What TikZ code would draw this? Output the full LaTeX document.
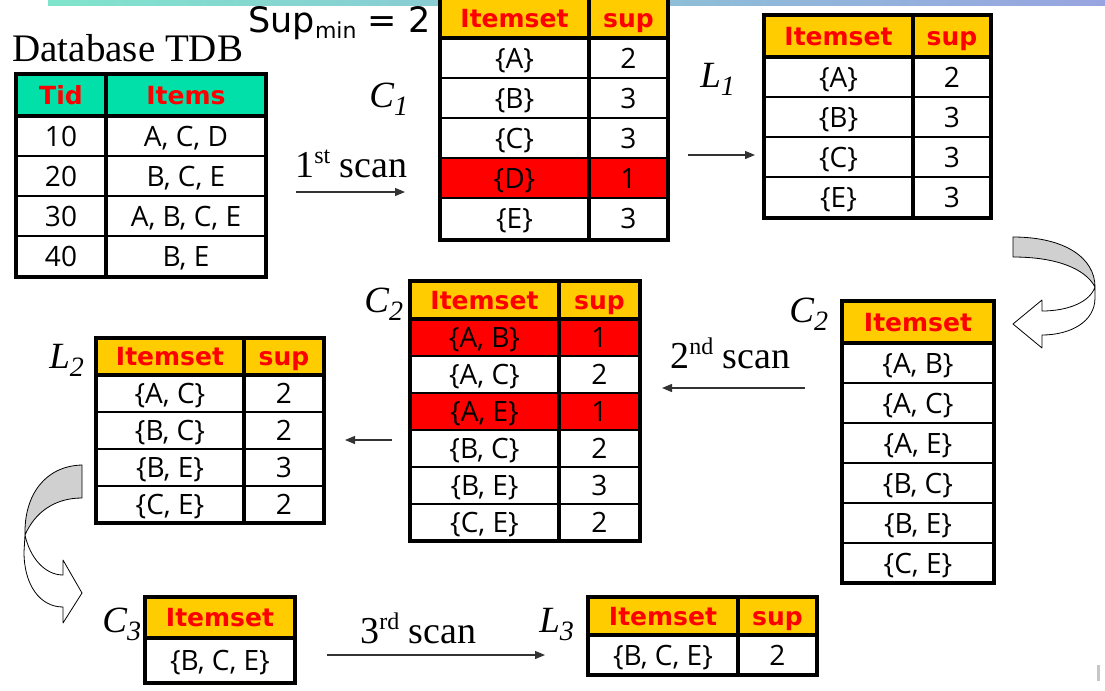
\documentclass[tikz,border=0pt]{standalone}
\usepackage{fontspec}
\setmainfont{Open Sans}
\newfontfamily\vsans{DejaVu Sans}
\newfontfamily\tnr{Liberation Serif}
\usetikzlibrary{arrows.meta}

\definecolor{hdrgold}{HTML}{FFCC00}
\definecolor{hdrteal}{HTML}{00E0A8}
\definecolor{hdrred}{HTML}{FF0000}
\definecolor{barmint}{HTML}{80E4CC}
\definecolor{barblue}{HTML}{98A4E0}
\definecolor{foldgray}{HTML}{D0D0D0}

% set name with a lowered index, as C_1
\newcommand{\setlbl}[2]{#1\raisebox{-4pt}{\fontsize{14}{14}\selectfont #2}}
\newcommand{\scanlbl}[2]{#1\raisebox{7pt}{\fontsize{12}{12}\selectfont #2}~scan}

\tikzset{
  frame/.style={line width=2pt},
  colline/.style={line width=2pt},
  rowline/.style={line width=1.1pt},
  hdr/.style={font=\vsans\bfseries\fontsize{12.5}{12.5}\selectfont, text=hdrred, inner sep=0pt, text height=9.1pt, text depth=0pt},
  cell/.style={font=\fontsize{14}{14}\selectfont, inner sep=0pt, text height=10pt, text depth=0pt},
  setname/.style={font=\tnr\itshape\fontsize{18.5}{18.5}\selectfont, anchor=base west, inner sep=0pt},
  scantext/.style={font=\tnr\fontsize{19}{19}\selectfont, anchor=base west, inner sep=0pt},
  scanarr/.style={-{Triangle[length=5pt,width=4pt]}, line width=0.6pt, black!80},
  fold/.style={draw=black, line width=0.4pt, line join=round},
}

\begin{document}
\begin{tikzpicture}[x=0.5pt, y=-0.5pt]
	\useasboundingbox (0,0) rectangle (1105,691);
	\clip (0,0) rectangle (1105,691);
	
	% top bar
	\shade[left color=barmint, right color=barblue] (48,0) rectangle (1105,5);
	\fill[gray!45] (1097,665) rectangle (1100,681);
	
	\node[font=\tnr\fontsize{19.5}{19.5}\selectfont, anchor=base west, inner sep=0pt] (tdbtitle) at (12,61) {Database TDB};
	\node[font=\vsans\fontsize{17.5}{17.5}\selectfont, anchor=base west, inner sep=0pt] (supmin) at (248,32) {Sup\raisebox{-3pt}{\fontsize{11}{11}\selectfont min} = 2};
	
	% Database TDB
	\fill[hdrteal] (16,74) rectangle (266,116);
	\foreach \y in {156,196,236} \draw[rowline] (16,\y) -- (266,\y);
	\draw[colline] (16,116) -- (266,116);
	\draw[colline] (106,74) -- (106,277);
	\draw[frame] (16,74) rectangle (266,277);
	\node[hdr] (tdbtid) at (61,95) {Tid};
	\node[hdr] (tdbitems) at (186,95) {Items};
	\foreach \t/\s [count=\i] in {10/{A, C, D}, 20/{B, C, E}, 30/{A, B, C, E}, 40/{B, E}} {
		\node[cell] (tdbt\i) at (61,96+40*\i) {\t};
		\node[cell] (tdbi\i) at (186,96+40*\i) {\s};
	}
	
	% C1
	\fill[hdrgold] (440,-4) rectangle (668,38);
	\fill[hdrred] (440,158) rectangle (668,198);
	\foreach \y in {78,118,158,198} \draw[rowline] (440,\y) -- (668,\y);
	\draw[colline] (440,38) -- (668,38);
	\draw[colline] (589,-4) -- (589,240);
	\draw[frame] (440,-4) rectangle (668,240);
	\node[hdr] (coneh) at (514.5,18) {Itemset};
	\node[hdr] (cones) at (628.5,18) {sup};
	\foreach \t/\s [count=\i] in {{\{A\}}/2, {\{B\}}/3, {\{C\}}/3, {\{D\}}/1, {\{E\}}/3} {
		\node[cell] (conet\i) at (514.5,18+40*\i) {\t};
		\node[cell] (cones\i) at (628.5,18+40*\i) {\s};
	}
	\node[setname] (conelbl) at (369,107) {\setlbl{C}{1}};
	
	% L1
	\fill[hdrgold] (764,15) rectangle (991,57);
	\foreach \y in {97,137,177} \draw[rowline] (764,\y) -- (991,\y);
	\draw[colline] (764,57) -- (991,57);
	\draw[colline] (913,15) -- (913,218);
	\draw[frame] (764,15) rectangle (991,218);
	\node[hdr] (loneh) at (838.5,36) {Itemset};
	\node[hdr] (lones) at (952,36) {sup};
	\foreach \t/\s [count=\i] in {{\{A\}}/2, {\{B\}}/3, {\{C\}}/3, {\{E\}}/3} {
		\node[cell] (lonet\i) at (838.5,37+40*\i) {\t};
		\node[cell] (lones\i) at (952,37+40*\i) {\s};
	}
	\node[setname] (lonelbl) at (700,87) {\setlbl{L}{1}};
	
	% C2, candidates only
	\fill[hdrgold] (842,301) rectangle (994,343);
	\foreach \y in {383,423,463,503,543} \draw[rowline] (842,\y) -- (994,\y);
	\draw[colline] (842,343) -- (994,343);
	\draw[frame] (842,301) rectangle (994,583);
	\node[hdr] (ctwoah) at (918,322) {Itemset};
	\foreach \t [count=\i] in {{\{A, B\}}, {\{A, C\}}, {\{A, E\}}, {\{B, C\}}, {\{B, E\}}, {\{C, E\}}}
		\node[cell] (ctwoat\i) at (918,323+40*\i) {\t};
	\node[setname] (ctwoalbl) at (789,322) {\setlbl{C}{2}};
	
	% C2, counted
	\fill[hdrgold] (410,281) rectangle (640,319);
	\fill[hdrred] (410,319) rectangle (640,356);
	\fill[hdrred] (410,393) rectangle (640,430);
	\foreach \y in {356,393,430,467,504} \draw[rowline] (410,\y) -- (640,\y);
	\draw[colline] (410,319) -- (640,319);
	\draw[colline] (559,281) -- (559,541);
	\draw[frame] (410,281) rectangle (640,541);
	\node[hdr] (ctwobh) at (484.5,300) {Itemset};
	\node[hdr] (ctwobs) at (599.5,300) {sup};
	\foreach \t/\s [count=\i] in {{\{A, B\}}/1, {\{A, C\}}/2, {\{A, E\}}/1, {\{B, C\}}/2, {\{B, E\}}/3, {\{C, E\}}/2} {
		\node[cell] (ctwobt\i) at (484.5,300.5+37*\i) {\t};
		\node[cell] (ctwobs\i) at (599.5,300.5+37*\i) {\s};
	}
	\node[setname] (ctwoblbl) at (364,312) {\setlbl{C}{2}};
	
	% L2
	\fill[hdrgold] (96,338) rectangle (324,375);
	\foreach \y in {412,449,486} \draw[rowline] (96,\y) -- (324,\y);
	\draw[colline] (96,375) -- (324,375);
	\draw[colline] (244,338) -- (244,523);
	\draw[frame] (96,338) rectangle (324,523);
	\node[hdr] (ltwoh) at (170,356.5) {Itemset};
	\node[hdr] (ltwos) at (284,356.5) {sup};
	\foreach \t/\s [count=\i] in {{\{A, C\}}/2, {\{B, C\}}/2, {\{B, E\}}/3, {\{C, E\}}/2} {
		\node[cell] (ltwot\i) at (170,356.5+37*\i) {\t};
		\node[cell] (ltwos\i) at (284,356.5+37*\i) {\s};
	}
	\node[setname] (ltwolbl) at (49,368) {\setlbl{L}{2}};
	
	% C3
	\fill[hdrgold] (145,597) rectangle (295,638);
	\draw[colline] (145,638) -- (295,638);
	\draw[frame] (145,597) rectangle (295,683);
	\node[hdr] (cthreeh) at (220,617.5) {Itemset};
	\node[cell] (cthreet1) at (220,660.5) {\{B, C, E\}};
	\node[setname] (cthreelbl) at (102,632) {\setlbl{C}{3}};
	
	% L3
	\fill[hdrgold] (588,597) rectangle (817,635);
	\draw[colline] (588,635) -- (817,635);
	\draw[colline] (738,597) -- (738,675);
	\draw[frame] (588,597) rectangle (817,675);
	\node[hdr] (lthreeh) at (663,616) {Itemset};
	\node[hdr] (lthrees) at (777.5,616) {sup};
	\node[cell] (lthreet1) at (663,655) {\{B, C, E\}};
	\node[cell] (lthrees1) at (777.5,655) {2};
	\node[setname] (lthreelbl) at (539,632) {\setlbl{L}{3}};
	
	% scans and arrows
	\node[scantext] (scanone) at (295,177) {\scanlbl{1}{st}};
	\node[scantext] (scantwo) at (670,368) {\scanlbl{2}{nd}};
	\node[scantext] (scanthree) at (360,643) {\scanlbl{3}{rd}};
	\coordinate (aone) at (296,192);
	\coordinate (bone) at (405,192);
	\coordinate (atwo) at (688,155);
	\coordinate (btwo) at (755,155);
	\coordinate (athree) at (805,388);
	\coordinate (bthree) at (662,388);
	\coordinate (afour) at (392,440);
	\coordinate (bfour) at (345,440);
	\coordinate (afive) at (327,655);
	\coordinate (bfive) at (545,655);
	\draw[scanarr] (aone) -- (bone);
	\draw[scanarr] (atwo) -- (btwo);
	\draw[scanarr] (athree) -- (bthree);
	\draw[scanarr] (afour) -- (bfour);
	\draw[scanarr] (afive) -- (bfive);
	
	% curved arrows
	\filldraw[fold, fill=foldgray] (1013,237) .. controls (1065,237) and (1095,258) .. (1095,287) .. controls (1085,268) and (1055,257) .. (1013,257) -- cycle;
	\filldraw[fold, fill=white] (1095,287) -- (1095,298) .. controls (1095,322) and (1070,335) .. (1042,335) -- (1042,348) -- (1013,324) -- (1042,300) -- (1042,311) .. controls (1068,311) and (1090,302) .. (1095,287) -- cycle;
	\filldraw[fold, fill=foldgray] (82,465) .. controls (45,466) and (24,495) .. (25,535) .. controls (35,512) and (55,498) .. (82,498) -- cycle;
	\filldraw[fold, fill=white] (25,535) -- (24,552) .. controls (24,585) and (40,607) .. (63,607) -- (63,623) -- (82,593) -- (63,560) -- (63,575) .. controls (45,575) and (30,558) .. (25,535) -- cycle;
\end{tikzpicture}
\end{document}
